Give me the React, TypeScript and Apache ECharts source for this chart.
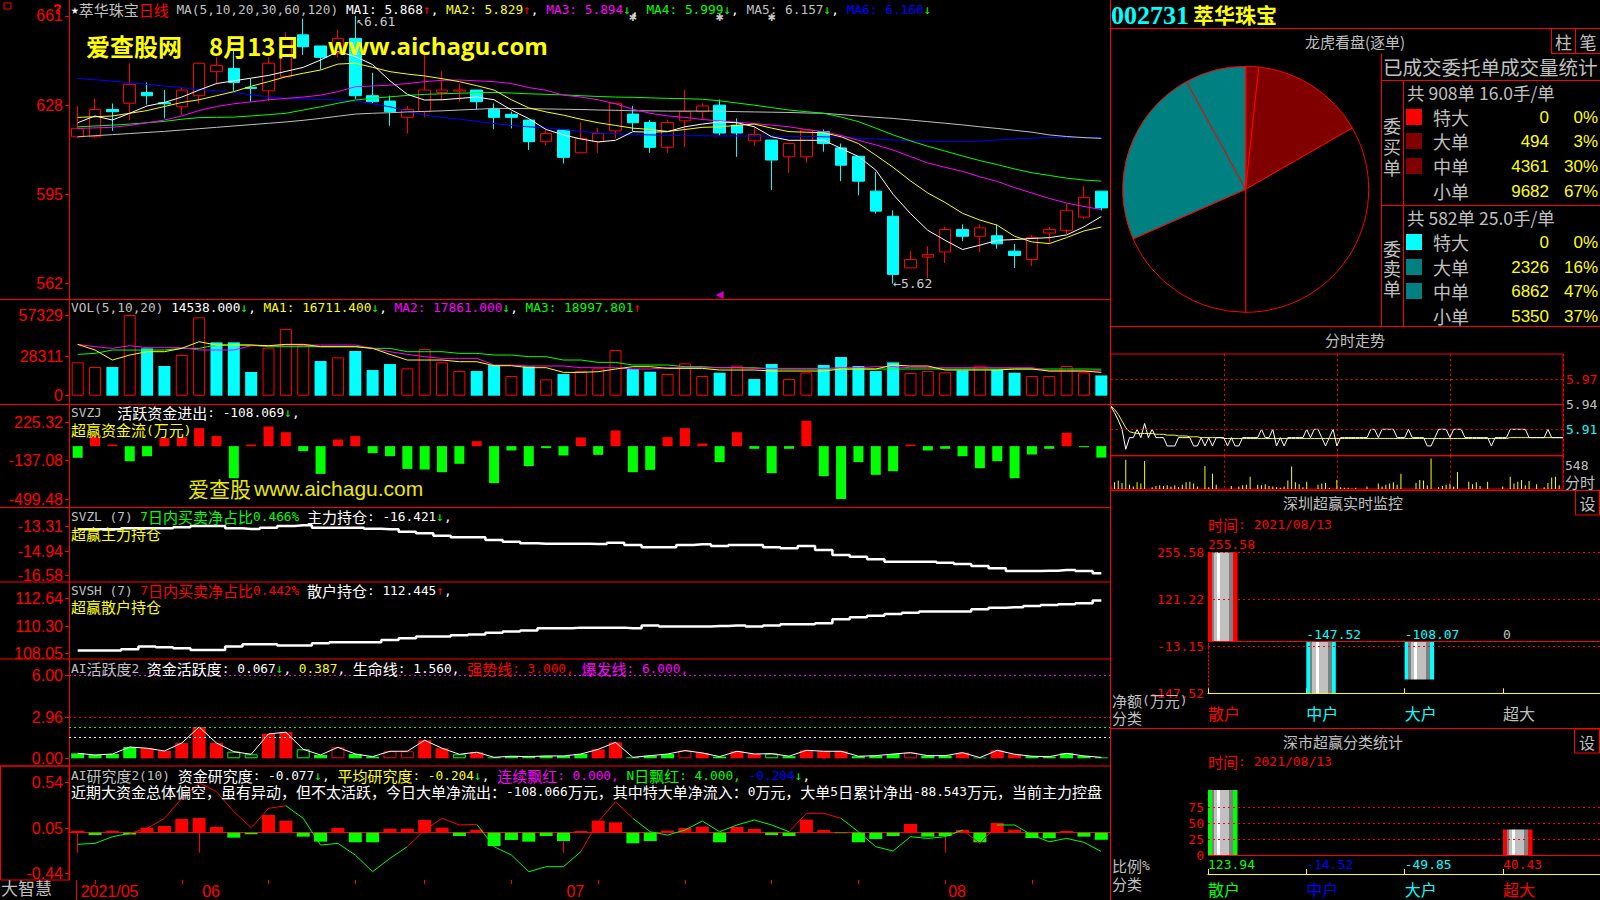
import React, { useEffect, useRef } from 'react';
import * as echarts from 'echarts';

// ================= DATA =================
const dates = ['2021/05/21','2021/05/24','2021/05/25','2021/05/26','2021/05/27','2021/05/28','2021/05/31',
'2021/06/01','2021/06/02','2021/06/03','2021/06/04','2021/06/07','2021/06/08','2021/06/09','2021/06/10','2021/06/11','2021/06/15','2021/06/16','2021/06/17','2021/06/18','2021/06/21','2021/06/22','2021/06/23','2021/06/24','2021/06/25','2021/06/28','2021/06/29','2021/06/30',
'2021/07/01','2021/07/02','2021/07/05','2021/07/06','2021/07/07','2021/07/08','2021/07/09','2021/07/12','2021/07/13','2021/07/14','2021/07/15','2021/07/16','2021/07/19','2021/07/20','2021/07/21','2021/07/22','2021/07/23','2021/07/26','2021/07/27','2021/07/28','2021/07/29','2021/07/30',
'2021/08/02','2021/08/03','2021/08/04','2021/08/05','2021/08/06','2021/08/09','2021/08/10','2021/08/11','2021/08/12','2021/08/13'];

const openP = [6.163,6.163,6.264,6.287,6.327,6.289,6.274,6.315,6.404,6.416, 6.346,6.333,6.385,6.54,6.499,6.472,6.527,6.315,6.295,6.235, 6.256,6.327,6.332,6.336,6.264,6.246,6.225,6.145,6.188,6.104, 6.145,6.185,6.247,6.216,6.124,6.222,6.256,6.28,6.206,6.148, 6.151,6.089,6.089,6.182,6.122,6.091,5.962,5.869,5.678,5.718, 5.737,5.82,5.795,5.797,5.74,5.709,5.807,5.817,5.866,5.962];
const closeP = [6.194,6.264,6.256,6.357,6.315,6.285,6.336,6.435,6.427,6.364, 6.342,6.435,6.527,6.496,6.457,6.527,6.315,6.293,6.256,6.264, 6.336,6.336,6.336,6.293,6.235,6.235,6.145,6.175,6.087,6.157, 6.175,6.287,6.215,6.124,6.216,6.256,6.277,6.177,6.177,6.172, 6.077,6.138,6.188,6.138,6.058,5.999,5.888,5.654,5.709,5.727, 5.82,5.795,5.826,5.767,5.724,5.79,5.82,5.891,5.938,5.90];
const lowP = [6.157,6.159,6.185,6.225,6.283,6.231,6.243,6.287,6.357,6.333, 6.293,6.295,6.385,6.466,6.412,6.457,6.303,6.287,6.204,6.175, 6.235,6.299,6.293,6.264,6.191,6.194,6.114,6.132,6.064,6.104, 6.104,6.157,6.185,6.104,6.104,6.124,6.225,6.168,6.089,6.129, 5.966,6.03,6.067,6.108,5.999,5.947,5.879,5.62,5.678,5.641, 5.696,5.777,5.737,5.749,5.678,5.685,5.767,5.804,5.86,5.89];
const highP = [6.277,6.305,6.286,6.435,6.364,6.336,6.346,6.435,6.457,6.484, 6.377,6.457,6.55,6.60,6.499,6.558,6.61,6.40,6.315,6.277, 6.472,6.406,6.36,6.336,6.286,6.256,6.225,6.188,6.188,6.216, 6.196,6.287,6.277,6.225,6.225,6.336,6.287,6.301,6.231,6.203, 6.151,6.138,6.188,6.19,6.138,6.091,6.033,5.891,5.74,5.758, 5.83,5.839,5.839,5.839,5.767,5.799,5.83,5.915,5.98,5.962];

const ma5 = [6.215,6.24,6.225,6.25,6.277,6.29,6.31,6.336,6.36,6.37, 6.38,6.39,6.405,6.42,6.447,6.478,6.46,6.43,6.37,6.32, 6.299,6.30,6.305,6.31,6.30,6.262,6.23,6.19,6.17,6.155, 6.144,6.15,6.182,6.18,6.182,6.20,6.21,6.218,6.215,6.20, 6.163,6.15,6.15,6.15,6.12,6.09,6.04,5.95,5.879,5.817, 5.78,5.746,5.762,5.78,5.783,5.787,5.79,5.80,5.83,5.868];
const ma10 = [6.235,6.237,6.24,6.25,6.26,6.275,6.29,6.30,6.315,6.33, 6.35,6.367,6.385,6.398,6.41,6.432,6.435,6.42,6.404,6.395, 6.388,6.378,6.367,6.352,6.336,6.30,6.27,6.255,6.243,6.228, 6.215,6.205,6.195,6.19,6.183,6.19,6.198,6.20,6.205,6.21, 6.195,6.182,6.18,6.178,6.163,6.138,6.095,6.05,6.0,5.955, 5.92,5.88,5.855,5.836,5.795,5.774,5.768,5.79,5.815,5.829];
const ma20 = [6.194,6.196,6.198,6.205,6.215,6.225,6.24,6.26,6.275,6.285, 6.292,6.3,6.305,6.31,6.317,6.33,6.348,6.351,6.354,6.36, 6.367,6.372,6.373,6.37,6.367,6.36,6.345,6.335,6.317,6.31, 6.3,6.285,6.265,6.25,6.24,6.235,6.227,6.222,6.217,6.212, 6.206,6.2,6.19,6.182,6.168,6.15,6.133,6.114,6.09,6.066, 6.05,6.035,6.015,5.998,5.975,5.955,5.935,5.918,5.905,5.894];
const ma30 = [6.20,6.203,6.206,6.21,6.215,6.22,6.228,6.234,6.235,6.236, 6.24,6.245,6.25,6.262,6.274,6.287,6.299,6.305,6.311,6.316, 6.32,6.322,6.324,6.326,6.327,6.325,6.322,6.32,6.318,6.315, 6.312,6.31,6.309,6.307,6.305,6.304,6.302,6.296,6.288,6.28, 6.271,6.262,6.256,6.25,6.236,6.219,6.195,6.17,6.148,6.128, 6.11,6.092,6.075,6.06,6.044,6.03,6.02,6.01,6.003,5.999];
const ma60 = [6.163,6.167,6.171,6.175,6.179,6.183,6.188,6.193,6.198,6.203, 6.208,6.213,6.218,6.224,6.231,6.239,6.247,6.25,6.252,6.255, 6.257,6.259,6.262,6.265,6.268,6.268,6.267,6.266,6.265,6.264, 6.262,6.261,6.259,6.259,6.258,6.258,6.258,6.258,6.256,6.255, 6.254,6.253,6.251,6.25,6.245,6.24,6.235,6.231,6.225,6.219, 6.213,6.207,6.2,6.194,6.187,6.18,6.17,6.164,6.16,6.157];
const ma120 = [6.379,6.374,6.369,6.363,6.357,6.351,6.345,6.338,6.333,6.327, 6.318,6.311,6.305,6.303,6.301,6.299,6.296,6.285,6.274,6.258, 6.243,6.235,6.228,6.22,6.212,6.205,6.2,6.196,6.19,6.183, 6.177,6.174,6.172,6.17,6.168,6.167,6.167,6.166,6.166,6.166, 6.165,6.165,6.164,6.163,6.161,6.158,6.155,6.151,6.149,6.147, 6.146,6.145,6.147,6.151,6.155,6.158,6.16,6.16,6.16,6.16];

const vol = [23890,20545,20545,57814,33924,21262,29146,56142,38224,38224, 16962,34402,47780,36313,24846,27474,32013,18395,22696,19590, 33446,23890,17679,17679,21979,14095,21023,11706,15529,17679, 19590,32729,19112,17201,15529,23173,14095,16484,21501,11945, 22696,11945,16723,21979,27712,21262,17679,23890,16245,17679, 16723,18156,21501,18634,16484,14095,14095,21262,16723,14538];
const volUp = [1,1,0,1,0,0,1,1,0,0, 0,1,1,1,0,1,0,0,0,1, 1,1,1,0,0,1,0,1,0,1, 1,1,0,0,1,1,1,0,1,0, 0,1,1,0,0,0,0,0,1,1, 1,0,1,0,0,1,1,1,1,0];
const volMa5 = [36791,32729,25562,29146,31535,31535,33924,38702,36313,36313, 36313,35835,36791,36791,35118,35118,35118,33924,29624,25562, 25562,25562,24368,24368,21501,21501,20068,20068,16723,16723, 17201,19112,20784,20784,19590,19590,19590,18395,18395,18395, 17679,17679,17679,17679,19112,19112,19112,21979,21262,21262, 18395,18395,18395,18395,19112,19112,17679,17679,17679,16711];
const volMa10 = [36791,35118,33924,35835,34402,34402,34402,32729,32729,32729, 35835,35835,36313,36313,36313,36313,36313,33924,31535,29624, 27951,26757,26757,26757,21979,21979,21262,21262,21262,20068, 20068,20068,19112,19112,20068,20068,20068,20068,20068,19590, 19590,19590,19590,19590,20068,20068,20784,20784,20068,20068, 20068,20068,20068,20068,20068,20068,17679,17679,17679,17861];
const volMa20 = [29624,30341,32729,32729,32729,32729,33924,33924,36313,36313, 36313,35118,35118,35118,35118,35118,35118,33924,33924,31535, 31535,31535,30341,30341,29146,29146,27951,27951,25562,25562, 23890,23890,21979,21979,21979,20784,20784,20068,20068,20068, 19112,19112,19112,19112,19112,19112,19112,19112,19112,19112, 19112,19112,19112,19112,19112,19112,19112,19112,19112,18998];

const svzj = [-110,85,15,-142,-95,76,85,170,95,-303, 15,186,132,-47,-262,63,95,-66,-95,-215, -221,-246,-167,47,-350,-41,-189,-19,-88,82, -82,148,-246,-224,85,170,25,-151,132,-25, -255,-25,240,-284,-500,-151,-271,-237,15,-41, -25,-95,-208,-142,-303,-79,-25,126,-10,-108.069];
const svzl = [-13.488,-13.488,-13.488,-13.421,-13.421,-13.421,-13.354,-13.265,-13.265,-13.421, -13.466,-13.377,-13.265,-13.221,-13.377,-13.377,-13.377,-13.443,-13.488,-13.644, -13.755,-13.911,-14.022,-14.022,-14.2,-14.311,-14.422,-14.445,-14.445,-14.445, -14.467,-14.378,-14.534,-14.689,-14.689,-14.534,-14.489,-14.6,-14.534,-14.534, -14.689,-14.756,-14.6,-14.867,-15.2,-15.312,-15.49,-15.646,-15.646,-15.646, -15.713,-15.8,-15.935,-16.09,-16.269,-16.269,-16.247,-16.202,-16.269,-16.421];
const svsh = [108.27,108.27,108.27,108.38,108.61,108.55,108.47,108.33,108.33,108.61, 108.80,108.80,108.69,108.69,108.88,108.97,108.97,108.97,109.16,109.30, 109.44,109.44,109.55,109.61,109.77,109.86,109.94,110.14,110.14,110.19, 110.19,110.19,110.14,110.36,110.28,110.28,110.28,110.33,110.36,110.28, 110.36,110.47,110.47,110.55,110.89,111.05,111.19,111.33,111.44,111.53, 111.53,111.53,111.72,111.86,111.89,112.00,112.08,112.14,112.22,112.445];
const ai1 = [0.36,0.24,0.31,0.82,0.73,0.53,1.11,2.27,1.11,0.48, 0.29,1.77,1.89,0.65,0.24,0.80,0.31,0.12,0.51,0.51, 1.31,0.73,0.29,0.44,0.07,0.15,0.12,0.17,0.17,0.31, 0.65,1.16,0.07,0.19,0.31,0.56,0.39,0.12,0.51,0.31, 0.34,0.15,0.58,0.51,0.51,0.15,0.19,0.31,0.41,0.19, 0.19,0.41,0.05,0.58,0.29,0.15,0.12,0.36,0.17,0.067];
// R filled red, r hollow red, G filled green, g hollow green
const ai1Style = 'GGGGRRRRRggRRgGrGGrrRRgRGGGGGGRRGGGrRGRRgGRRRGGGrGGRGRRGGGGG'.split('');
const ai1Levels = [6.0, 3.0, 2.27, 1.56];
const ai1LevelColors = ['#ff00ff', '#ff0000', '#00ff00', '#ffffff'];
const ai2Bar = [0.02,-0.025,0.02,-0.02,0.054,0.072,0.148,0.159,0.061,-0.054, -0.018,0.191,0.13,-0.043,-0.097,0.05,-0.104,-0.104,0.043,0.043, 0.137,0.054,-0.036,0.032,-0.144,-0.079,-0.097,-0.036,-0.09,0.018, 0.13,0.112,-0.115,-0.09,0.022,0.05,0.065,-0.104,0.061,0.04, -0.025,-0.036,0.141,0.029,-0.006,-0.104,-0.068,-0.036,0.094,-0.043, -0.036,0.029,-0.104,0.105,0.032,-0.058,-0.061,0.018,-0.043,-0.077];
const ai2Line = [-0.126,-0.116,-0.044,-0.008,0.046,0.155,0.371,0.54,0.443,0.227, 0.054,0.263,0.291,0.155,-0.134,-0.116,-0.242,-0.422,-0.278,-0.152, 0.028,0.155,0.083,0.09,-0.152,-0.242,-0.422,-0.368,-0.368,-0.206, 0.119,0.335,0.155,0.01,-0.026,0.028,0.126,0.01,0.083,0.137, 0.083,0.01,0.209,0.209,0.155,0.01,-0.152,-0.198,-0.044,-0.062, -0.044,0.028,-0.116,0.083,0.083,-0.026,-0.098,-0.062,-0.105,-0.204];
const ai2LineColor = 'GGGGRRRRRRRRRGGGGGGGRRRRGGGGGGRRRGGGGGGGGGRRRGGGGGGGRRGGGGGG'.split('');

const eventIdx = [32, 37, 40];
const highMark = { idx: 16, price: 6.61 };
const lowMark = { idx: 47, price: 5.62 };
const cursorIdx = 37;

const kTicks = [6.61, 6.28, 5.95, 5.62];
const volTicks = [57329, 28311, 0];
const svzjTicks = [225.32, -137.08, -499.48];
const svzlTicks = [-13.31, -14.94, -16.58];
const svshTicks = [112.64, 110.30, 108.05];
const ai1Ticks = [6.00, 2.96, 0.00];
const ai2Ticks = [0.54, 0.05, -0.44];

// pie (龙虎看盘)
const pieNames = ['委买特大','委买大单','委买中单','委买小单','委卖小单','委卖中单','委卖大单','委卖特大'];
const pieValues = [0, 494, 4361, 9682, 5350, 6862, 2326, 0];
const pieColors = ['#ff0000','#800000','#800000','#000000','#000000','#008080','#008080','#00ffff'];
const orderLabels = ['特大','大单','中单','小单'];
const buyVals = ['0','494','4361','9682'];
const buyPct = ['0%','3%','30%','67%'];
const buyColors = ['#ff0000','#800000','#800000',''];
const sellVals = ['0','2326','6862','5350'];
const sellPct = ['0%','16%','47%','37%'];
const sellColors = ['#00ffff','#008080','#008080',''];

// 分时
const minPrice = [5.938,5.93,5.921,5.91,5.886,5.90,5.90,5.91,5.90,5.917, 5.90,5.91,5.90,5.90,5.90,5.89,5.89,5.89,5.90,5.90, 5.90,5.90,5.89,5.89,5.90,5.89,5.90,5.89,5.90,5.90, 5.90,5.89,5.90,5.89,5.89,5.90,5.90,5.90,5.90,5.90, 5.91,5.90,5.90,5.91,5.89,5.90,5.89,5.90,5.90,5.90, 5.90,5.90,5.91,5.90,5.91,5.91,5.90,5.89,5.90,5.91, 5.89,5.90,5.90,5.90,5.90,5.90,5.90,5.90,5.90,5.91, 5.91,5.90,5.91,5.91,5.91,5.91,5.90,5.90,5.90,5.91, 5.90,5.90,5.90,5.90,5.89,5.89,5.90,5.91,5.91,5.91, 5.90,5.91,5.91,5.91,5.90,5.90,5.90,5.90,5.90,5.90, 5.90,5.89,5.90,5.90,5.90,5.90,5.91,5.91,5.91,5.91, 5.91,5.90,5.90,5.90,5.90,5.90,5.91,5.90,5.90,5.90, 5.90];
const minAvg = [5.938,5.934,5.928,5.92,5.912,5.907,5.906,5.905,5.905,5.905, 5.905,5.905,5.904,5.904,5.904,5.903,5.903,5.903,5.902,5.902, 5.902,5.901,5.901,5.901,5.90,5.90,5.90,5.90,5.90,5.90, 5.899,5.899,5.899,5.899,5.899,5.899,5.899,5.899,5.899,5.899, 5.899,5.899,5.899,5.899,5.899,5.899,5.899,5.899,5.899,5.899, 5.899,5.899,5.899,5.899,5.899,5.899,5.899,5.899,5.899,5.899, 5.899,5.899,5.899,5.899,5.899,5.899,5.899,5.899,5.899,5.899, 5.899,5.899,5.899,5.899,5.899,5.899,5.899,5.899,5.899,5.899, 5.899,5.899,5.899,5.899,5.899,5.899,5.899,5.899,5.899,5.899, 5.899,5.899,5.899,5.899,5.899,5.899,5.899,5.899,5.899,5.899, 5.899,5.899,5.899,5.899,5.899,5.899,5.90,5.90,5.90,5.90, 5.90,5.90,5.90,5.90,5.90,5.90,5.90,5.90,5.90,5.90, 5.90];
const minVol = [60,110,140,100,480,70,40,110,90,460, 0,30,50,60,50,60,40,60,30,70, 110,120,90,40,0,380,30,250,70,0, 0,0,50,0,40,60,70,200,0,70, 60,80,50,40,30,20,40,140,370,110, 80,30,120,0,0,70,90,100,20,0, 150,30,20,20,10,20,0,0,40,0, 0,90,40,70,90,110,70,250,0,0, 0,100,150,140,60,500,0,30,50,70, 90,40,280,0,0,120,80,110,50,0, 120,0,0,0,40,0,200,90,120,150, 60,130,0,80,0,30,100,190,200,60, 0];
const minPriceTicks = [5.97, 5.94, 5.91];
const minPrevClose = 5.94;

// 深圳超赢实时监控
const szCats = ['散户','中户','大户','超大'];
const szNet = [255.58, -147.52, -108.07, 0];
const szTicks = [255.58, 121.22, -13.15, -147.52];
const szEdge = ['#ff0000','#00ffff','#00ffff','#c0c0c0'];
const szCatColors = ['#ff0000','#00ffff','#00ffff','#c0c0c0'];
// 深市超赢分类统计
const ssPct = [123.94, -14.52, -49.85, 40.43];
const ssTicks = [75, 50, 25, 0];
const ssColors = ['#00ff00','#0000ff','#00ffff','#ff0000'];

// ================= STYLE HELPERS =================
const MONO = '"DejaVu Sans Mono", monospace';
const CJK = '"Noto Sans CJK SC", sans-serif';
const SANS = '"Liberation Sans", Arial, sans-serif';
const SERIF = '"Liberation Serif", serif';
const RED = '#ff0000', GREEN = '#00ff00', CYAN = '#00ffff', YEL = '#ffff00', MAG = '#ff00ff', WHITE = '#ffffff', GRAY = '#c0c0c0', BLUE = '#0000ff';

const isCJK = (ch: string) => /[\u2E80-\u9FFF\uF900-\uFAFF\uFF00-\uFFEF\u3000-\u303F]/.test(ch);

function mixText(segs: [string, string][], asciiSize: number, cjkSize: number, asciiFont = MONO) {
  const rich: any = {};
  let text = '';
  for (const [s, color] of segs) {
    let run = '';
    let runK: boolean | null = null;
    const flush = () => {
      if (!run) return;
      const key = (runK ? 'k' : 'a') + color.replace('#', '');
      if (!rich[key]) rich[key] = { fill: color, fontSize: runK ? cjkSize : asciiSize, fontFamily: runK ? CJK : asciiFont, verticalAlign: 'middle', lineHeight: cjkSize + 2 };
      text += '{' + key + '|' + run + '}';
      run = '';
    };
    for (const ch of Array.from(s)) {
      const k = isCJK(ch);
      if (runK !== null && k !== runK) flush();
      runK = k;
      run += ch;
    }
    flush();
  }
  return { text, rich };
}

const MT = (x: number, y: number, segs: [string, string][], a = 12.8, k = 15, align = 'left') => {
  const { text, rich } = mixText(segs, a, k);
  return { type: 'text', x, y, z: 100, silent: true, style: { text, rich, align, verticalAlign: 'middle', fill: WHITE, fontSize: k } };
};
const T = (x: number, y: number, text: string, fill: string, size: number, family = CJK, align = 'left', weight = 'normal') => ({
  type: 'text', x, y, z: 100, silent: true, style: { text, fill, fontSize: size, fontFamily: family, fontWeight: weight, align, verticalAlign: 'middle', lineHeight: Math.round(size * 1.15) },
});
const LN = (x1: number, y1: number, x2: number, y2: number, color = RED, dash: any = null) => ({
  type: 'line', z: 50, silent: true, shape: { x1, y1, x2, y2 }, style: { stroke: color, lineWidth: 1, lineDash: dash },
});
const RC = (x: number, y: number, w: number, h: number, stroke: any = RED, fill: any = 'none') => ({
  type: 'rect', z: 50, silent: true, shape: { x, y, width: w, height: h }, style: { stroke, fill, lineWidth: 1 },
});

const barGrad = (edge: string) => new echarts.graphic.LinearGradient(0, 0, 1, 0, [
  { offset: 0, color: edge }, { offset: 0.12, color: edge },
  { offset: 0.12, color: '#808080' }, { offset: 0.2, color: '#808080' },
  { offset: 0.2, color: GRAY }, { offset: 0.32, color: GRAY },
  { offset: 0.32, color: WHITE }, { offset: 0.42, color: WHITE },
  { offset: 0.42, color: GRAY }, { offset: 0.72, color: GRAY },
  { offset: 0.72, color: '#808080' }, { offset: 0.86, color: '#808080' },
  { offset: 0.86, color: edge }, { offset: 1, color: edge },
]);

function buildOption() {
  const L = 69, W = 1041;
  const paneTops = [0, 299, 404, 507, 582, 659, 766];
  const paneHeights = [299, 105, 103, 75, 77, 107, 114];
  const paneRanges = [[5.563, 6.669], [-5948, 69296], [-575, 398.3], [-17.0, -12.0], [107.57, 114.0], [-0.56, 7.21], [-0.512, 0.721]];
  const paneTicks = [kTicks, volTicks, svzjTicks, svzlTicks, svshTicks, ai1Ticks, ai2Ticks];
  const paneFmt = [
    (v: number) => String(Math.round(v * 100)),
    (v: number) => String(Math.round(v)),
    (v: number) => v.toFixed(2), (v: number) => v.toFixed(2), (v: number) => v.toFixed(2),
    (v: number) => v.toFixed(2), (v: number) => v.toFixed(2),
  ];

  const grid: any[] = paneTops.map((t, i) => ({ left: L, top: t, width: W, height: paneHeights[i], outerBoundsMode: 'none' }));
  grid.push({ left: 1110.7, top: 354, width: 452.3, height: 101.7, show: true, borderColor: RED, borderWidth: 1, backgroundColor: 'transparent', outerBoundsMode: 'none' });
  grid.push({ left: 1110.7, top: 455.7, width: 452.3, height: 33.3, show: true, borderColor: RED, borderWidth: 1, backgroundColor: 'transparent', outerBoundsMode: 'none' });
  grid.push({ left: 1208, top: 552.3, width: 393.3, height: 141, outerBoundsMode: 'none' });
  grid.push({ left: 1208, top: 790, width: 393.3, height: 65, outerBoundsMode: 'none' });

  const monthStart = (i: number) => i === 0 || dates[i].slice(5, 7) !== dates[i - 1].slice(5, 7);
  const weekStart = (i: number) => i > 0 && new Date(dates[i]).getDay() <= new Date(dates[i - 1]).getDay();

  const xAxis: any[] = paneTops.map((_, i) => {
    if (i < 6) return { type: 'category', gridIndex: i, data: dates, boundaryGap: true, show: false };
    return {
      type: 'category', gridIndex: i, data: dates, boundaryGap: true,
      axisLine: { show: true, lineStyle: { color: RED, width: 1 } },
      axisTick: { show: true, alignWithLabel: true, interval: monthStart, length: 20, lineStyle: { color: RED } },
      axisLabel: { show: true, interval: monthStart, formatter: (v: string, idx: number) => (idx === 0 ? v.slice(0, 7) : v.slice(5, 7)), color: RED, fontFamily: SANS, fontSize: 16, align: 'left', margin: 3, padding: [0, 0, 0, 3] },
      splitLine: { show: false },
    };
  });
  const minCats = minPrice.map((_, i) => String(i));
  const minX = (gi: number) => ({
    type: 'category', gridIndex: gi, data: minCats, boundaryGap: false,
    axisLine: { show: false }, axisTick: { show: false }, axisLabel: { show: false },
    splitLine: { show: true, interval: 29, lineStyle: { color: RED, type: [2, 3], width: 1 } },
  });
  xAxis.push(minX(7), minX(8));
  const catX = (gi: number, offset: number, margin: number, colors: string[]) => ({
    type: 'value', gridIndex: gi, min: 0, max: 4, position: 'bottom', offset,
    axisLine: { show: true, onZero: false, lineStyle: { color: YEL, width: 1 } },
    axisTick: { show: true, inside: true, length: 5, customValues: [0, 1, 2, 3], lineStyle: { color: YEL } },
    axisLabel: { show: true, customValues: [0, 1, 2, 3], formatter: (v: number) => szCats[Math.round(v)] || '', color: (v: any) => colors[Math.round(Number(v))] || GRAY, align: 'left', fontFamily: CJK, fontSize: 16, margin },
    splitLine: { show: false },
  });
  xAxis.push(catX(9, 0, 12, szCatColors), catX(10, 19, 7, ssColors));
  xAxis.push({
    type: 'category', gridIndex: 6, data: dates, boundaryGap: true, position: 'bottom',
    axisLine: { show: false }, axisLabel: { show: false }, splitLine: { show: false },
    axisTick: { show: true, alignWithLabel: true, interval: weekStart, length: 4, lineStyle: { color: RED } },
  });

  const yAxis: any[] = paneTops.map((_, i) => ({
    type: 'value', gridIndex: i, min: paneRanges[i][0], max: paneRanges[i][1],
    axisLine: { show: true, onZero: false, lineStyle: { color: RED, width: 1 } },
    axisTick: { show: true, customValues: paneTicks[i], length: 4, lineStyle: { color: RED } },
    axisLabel: { show: true, customValues: paneTicks[i], formatter: paneFmt[i], color: RED, fontFamily: SANS, fontSize: 16, margin: 6 },
    splitLine: { show: false },
  }));
  yAxis.push({
    type: 'value', gridIndex: 7, position: 'right', min: 5.8783, max: 6.0004,
    axisLine: { show: false }, axisTick: { show: false }, splitLine: { show: false },
    axisLabel: { show: true, customValues: minPriceTicks, formatter: (v: number) => v.toFixed(2), color: (v: any) => (Number(v) > minPrevClose + 0.005 ? RED : Number(v) < minPrevClose - 0.005 ? CYAN : GRAY), fontFamily: MONO, fontSize: 13, margin: 3 },
  });
  yAxis.push({ type: 'value', gridIndex: 8, min: 0, max: 548, show: false });
  yAxis.push({
    type: 'value', gridIndex: 9, min: -147.52, max: 255.58,
    axisLine: { show: true, onZero: false, lineStyle: { color: RED, type: [2, 2] } }, axisTick: { show: false }, splitLine: { show: false },
    axisLabel: { show: true, customValues: szTicks, formatter: (v: number) => v.toFixed(2), color: RED, fontFamily: MONO, fontSize: 13, margin: 4 },
  });
  yAxis.push({
    type: 'value', gridIndex: 10, min: 0, max: 103,
    axisLine: { show: true, onZero: false, lineStyle: { color: RED, type: [2, 2] } }, axisTick: { show: false }, splitLine: { show: false },
    axisLabel: { show: true, customValues: ssTicks, formatter: (v: number) => String(Math.round(v)), color: RED, fontFamily: MONO, fontSize: 13, margin: 4 },
  });

  const series: any[] = [];
  series.push({
    type: 'candlestick', xAxisIndex: 0, yAxisIndex: 0, barWidth: 12, silent: true,
    data: dates.map((_, i) => [openP[i], closeP[i], lowP[i], highP[i]]),
    itemStyle: { color: 'rgba(0,0,0,0)', color0: CYAN, borderColor: RED, borderColor0: CYAN, borderWidth: 1 },
  });
  const maLine = (data: number[], color: string, xi: number, yi: number, width = 1) => ({
    type: 'line', xAxisIndex: xi, yAxisIndex: yi, data, symbol: 'none', silent: true, lineStyle: { color, width }, z: 3,
  });
  series.push(maLine(ma120, BLUE, 0, 0), maLine(ma60, GRAY, 0, 0), maLine(ma30, GREEN, 0, 0), maLine(ma20, MAG, 0, 0), maLine(ma10, YEL, 0, 0), maLine(ma5, WHITE, 0, 0));
  series.push({
    type: 'scatter', xAxisIndex: 0, yAxisIndex: 0, symbolSize: 0, silent: true, z: 5,
    data: [[highMark.idx, highMark.price]],
    label: { show: true, position: 'right', distance: 1, offset: [0, 6], formatter: '↖' + highMark.price.toFixed(2), color: WHITE, fontFamily: MONO, fontSize: 13 },
  });
  series.push({
    type: 'scatter', xAxisIndex: 0, yAxisIndex: 0, symbolSize: 0, silent: true, z: 5,
    data: [[lowMark.idx, lowMark.price]],
    label: { show: true, position: 'right', distance: 0, formatter: '←' + lowMark.price.toFixed(2), color: WHITE, fontFamily: MONO, fontSize: 13 },
  });
  series.push({
    type: 'scatter', xAxisIndex: 0, yAxisIndex: 0, symbolSize: 0, silent: true, z: 5,
    data: eventIdx.map((i) => [i, 6.603]),
    label: { show: true, position: 'inside', formatter: '✱', color: WHITE, fontFamily: '"DejaVu Sans"', fontSize: 10, fontWeight: 'bold' },
  });
  series.push({
    type: 'scatter', xAxisIndex: 0, yAxisIndex: 0, symbol: 'triangle', symbolRotate: 90, symbolSize: 8, silent: true, z: 5,
    data: [[cursorIdx, 5.578]], itemStyle: { color: MAG },
  });
  series.push({
    type: 'bar', xAxisIndex: 1, yAxisIndex: 1, barWidth: 12, silent: true,
    data: vol.map((v, i) => ({ value: v, itemStyle: volUp[i] ? { color: 'rgba(0,0,0,0)', borderColor: RED, borderWidth: 1 } : { color: CYAN, borderColor: CYAN, borderWidth: 0 } })),
  });
  series.push(maLine(volMa20, GREEN, 1, 1), maLine(volMa10, MAG, 1, 1), maLine(volMa5, YEL, 1, 1));
  series.push({
    type: 'bar', xAxisIndex: 2, yAxisIndex: 2, barWidth: 10, silent: true,
    data: svzj.map((v) => ({ value: v, itemStyle: { color: v >= 0 ? RED : GREEN } })),
  });
  series.push({ type: 'line', xAxisIndex: 3, yAxisIndex: 3, data: svzl, step: 'middle', symbol: 'none', silent: true, lineStyle: { color: WHITE, width: 2.5 } });
  series.push({ type: 'line', xAxisIndex: 4, yAxisIndex: 4, data: svsh, step: 'middle', symbol: 'none', silent: true, lineStyle: { color: WHITE, width: 2.5 } });
  const aiStyle = (s: string) => s === 'R' ? { color: RED } : s === 'G' ? { color: GREEN } : s === 'r' ? { color: 'rgba(0,0,0,0)', borderColor: RED, borderWidth: 1 } : { color: 'rgba(0,0,0,0)', borderColor: GREEN, borderWidth: 1 };
  series.push({
    type: 'bar', xAxisIndex: 5, yAxisIndex: 5, barWidth: 13, silent: true,
    data: ai1.map((v, i) => ({ value: v, itemStyle: aiStyle(ai1Style[i]) })),
    markLine: { silent: true, symbol: ['none', 'none'], label: { show: false }, animation: false,
      data: ai1Levels.map((v, i) => ({ yAxis: v, lineStyle: { color: ai1LevelColors[i], type: [2, 3], width: 1 } })) },
  });
  series.push({ type: 'line', xAxisIndex: 5, yAxisIndex: 5, data: ai1, symbol: 'none', silent: true, lineStyle: { color: WHITE, width: 1 }, z: 3 });
  series.push({
    type: 'bar', xAxisIndex: 6, yAxisIndex: 6, barWidth: 13, silent: true,
    data: ai2Bar.map((v) => ({ value: v, itemStyle: { color: v >= 0 ? RED : GREEN } })),
  });
  const ai2LineIdx = series.length;
  series.push({ type: 'line', xAxisIndex: 6, yAxisIndex: 6, data: ai2Line.map((v, i) => [i, v]), symbol: 'none', silent: true, lineStyle: { width: 1 }, z: 3 });
  const pieces: any[] = [];
  let segStart = 0;
  for (let i = 1; i < ai2Line.length; i++) {
    const c = ai2LineColor[i];
    if (i === ai2Line.length - 1 || ai2LineColor[i + 1] !== c) {
      pieces.push({ gt: segStart, lte: i, color: c === 'R' ? RED : GREEN });
      segStart = i;
    }
  }
  pieces.push({ lte: 0, color: ai2LineColor[0] === 'R' ? RED : GREEN });

  series.push({
    type: 'pie', center: [1245.7, 189.3], radius: 123, startAngle: 90, clockwise: true, silent: true,
    minAngle: 0, avoidLabelOverlap: false, stillShowZeroSum: true, emphasis: { disabled: true },
    label: { show: false }, labelLine: { show: false },
    itemStyle: { borderColor: RED, borderWidth: 1 },
    data: pieValues.map((v, i) => ({ value: v, name: pieNames[i], itemStyle: { color: pieColors[i] } })),
  });

  series.push({
    type: 'line', xAxisIndex: 7, yAxisIndex: 7, data: minPrice, symbol: 'none', silent: true, lineStyle: { color: WHITE, width: 1 }, z: 4,
    markLine: { silent: true, symbol: ['none', 'none'], label: { show: false },
      data: minPriceTicks.map((v) => ({ yAxis: v, lineStyle: { color: RED, width: 1, type: v === minPrevClose ? 'solid' : [2, 3] } })) },
  });
  series.push({ type: 'line', xAxisIndex: 7, yAxisIndex: 7, data: minAvg, symbol: 'none', silent: true, lineStyle: { color: YEL, width: 1 }, z: 3 });
  series.push({ type: 'bar', xAxisIndex: 8, yAxisIndex: 8, data: minVol, barWidth: 1, silent: true, itemStyle: { color: YEL } });

  const barRender = (labels: string[], labelColors: string[], edges: string[], lo: number, hi: number, below: boolean) => (params: any, api: any) => {
    const i = api.value(0);
    const v = api.value(1);
    const vc = Math.max(lo, Math.min(hi, v));
    const p0 = api.coord([i, 0]);
    const p1 = api.coord([i, vc]);
    const w = api.size([0.3, 0])[0];
    const children: any[] = [];
    const h = Math.abs(p1[1] - p0[1]);
    if (h > 0.5) children.push({ type: 'rect', shape: { x: p0[0], y: Math.min(p0[1], p1[1]), width: w, height: h }, style: { fill: barGrad(edges[i]) } });
    const ly = below ? p0[1] + 3 : (v > 0 ? p1[1] - 1 : p0[1] - 1);
    children.push({ type: 'text', x: p0[0], y: ly, style: { text: labels[i], fill: labelColors[i], fontSize: 13, fontFamily: MONO, align: 'left', verticalAlign: below ? 'top' : 'bottom' } });
    return { type: 'group', children };
  };
  series.push({
    type: 'custom', xAxisIndex: 9, yAxisIndex: 9, silent: true, z: 4,
    data: szNet.map((v, i) => [i, v]),
    renderItem: barRender(szNet.map((v) => (v === 0 ? '0' : v.toFixed(2))), szCatColors, szEdge, -147.52, 255.58, false),
    markLine: { silent: true, symbol: ['none', 'none'], label: { show: false },
      data: [...szTicks.slice(0, 3).map((v) => ({ yAxis: v, lineStyle: { color: RED, type: [2, 3], width: 1 } })), { yAxis: 0, lineStyle: { color: RED, type: 'solid', width: 1 } }] },
  });
  series.push({
    type: 'custom', xAxisIndex: 10, yAxisIndex: 10, silent: true, z: 4,
    data: ssPct.map((v, i) => [i, v]),
    renderItem: barRender(ssPct.map((v) => v.toFixed(2)), ssColors, ssColors, 0, 103, true),
    markLine: { silent: true, symbol: ['none', 'none'], label: { show: false },
      data: [...ssTicks.slice(0, 3).map((v) => ({ yAxis: v, lineStyle: { color: RED, type: [2, 3], width: 1 } })), { yAxis: 0, lineStyle: { color: RED, type: 'solid', width: 1 } }] },
  });

  // ================= GRAPHIC =================
  const g: any[] = [];
  [299.5, 404.5, 507.5, 582, 659, 766].forEach((y) => g.push(LN(0, y, 1110, y)));
  g.push(LN(1110.5, 0, 1110.5, 900));
  g.push(RC(0.5, 766, 68.5, 114));
  g.push(LN(76.5, 880, 76.5, 900));
  g.push(RC(4, 3, 7, 6, RED));
  g.push(T(53, 9, '?', RED, 14, SANS, 'left', 'bold'));
  g.push(T(1, 887, '大智慧', GRAY, 17, CJK));

  g.push(MT(71, 9.5, [['★', WHITE], ['萃华珠宝', GRAY], ['日线', RED], [' MA(5,10,20,30,60,120) ', GRAY], ['MA1: 5.868', WHITE], ['↑', RED], [', ', WHITE], ['MA2: 5.829', YEL], ['↑', RED], [', ', WHITE], ['MA3: 5.894', MAG], ['↓', GREEN], [', ', WHITE], ['MA4: 5.999', GREEN], ['↓', GREEN], [', ', WHITE], ['MA5: 6.157', GRAY], ['↓', GREEN], [', ', WHITE], ['MA6: 6.160', BLUE], ['↓', GREEN]]));
  g.push(T(86, 45, '爱查股网', YEL, 24, CJK, 'left', 'bold'));
  g.push(T(209, 45, '8月13日', YEL, 24, CJK, 'left', 'bold'));
  g.push(T(328, 45, 'www.aichagu.com', YEL, 24, '"Open Sans", sans-serif', 'left', 'bold'));
  g.push(MT(71, 307, [['VOL(5,10,20) ', GRAY], ['14538.000', WHITE], ['↓', GREEN], [', ', WHITE], ['MA1: 16711.400', YEL], ['↓', GREEN], [', ', WHITE], ['MA2: 17861.000', MAG], ['↓', GREEN], [', ', WHITE], ['MA3: 18997.801', GREEN], ['↑', RED]]));
  g.push(MT(71, 412, [['SVZJ  ', GRAY], ['活跃资金进出: -108.069', WHITE], ['↓', GREEN], [',', WHITE]]));
  g.push(MT(71, 429, [['超赢资金流(万元)', YEL]]));
  g.push(T(188, 488, '爱查股', '#e8e800', 21, CJK));
  g.push(T(254, 488, 'www.aichagu.com', '#e8e800', 21, SANS));
  g.push(MT(71, 516.7, [['SVZL (7) ', GRAY], ['7日内买卖净占比0.466%', GREEN], [' 主力持仓: -16.421', WHITE], ['↓', GREEN], [',', WHITE]]));
  g.push(MT(71, 533, [['超赢主力持仓', YEL]]));
  g.push(MT(71, 590.7, [['SVSH (7) ', GRAY], ['7日内买卖净占比0.442%', RED], [' 散户持仓: 112.445', WHITE], ['↑', RED], [',', WHITE]]));
  g.push(MT(71, 606.7, [['超赢散户持仓', YEL]]));
  g.push(MT(71, 668.3, [['AI活跃度2 ', GRAY], ['资金活跃度: 0.067', WHITE], ['↓', GREEN], [', ', WHITE], ['0.387', YEL], [', 生命线: 1.560, ', WHITE], ['强势线: 3.000, ', RED], ['爆发线: 6.000,', MAG]]));
  g.push(MT(71, 775, [['AI研究度2(10) ', GRAY], ['资金研究度: -0.077', WHITE], ['↓', GREEN], [', ', WHITE], ['平均研究度: -0.204', YEL], ['↓', GREEN], [', ', WHITE], ['连续飘红: 0.000, ', MAG], ['N日飘红: 4.000, ', GREEN], ['-0.204', BLUE], ['↓', GREEN], [',', WHITE]]));
  g.push(MT(71, 791.7, [['近期大资金总体偏空，虽有异动，但不太活跃，今日大单净流出：-108.066万元，其中特大单净流入：0万元，大单5日累计净出-88.543万元，当前主力控盘', WHITE]]));

  g.push(LN(1110, 28.5, 1600, 28.5));
  g.push(LN(1551, 53.5, 1600, 53.5));
  g.push(LN(1551.5, 28.5, 1551.5, 53.5));
  g.push(LN(1575.5, 28.5, 1575.5, 53.5));
  g.push(LN(1381.5, 53.5, 1381.5, 326));
  g.push(LN(1381, 80.5, 1600, 80.5));
  g.push(LN(1403.5, 80.5, 1403.5, 326));
  g.push(LN(1381, 205.5, 1600, 205.5));
  g.push(LN(1110, 326.5, 1600, 326.5));
  g.push(LN(1110, 490.5, 1600, 490.5));
  g.push(RC(1575.5, 490.5, 24, 24.5));
  g.push(LN(1110, 728.5, 1600, 728.5));
  g.push(RC(1574.5, 729, 25, 24));

  g.push(T(1111, 15, '002731', CYAN, 26, SERIF, 'left', 'bold'));
  g.push(T(1193, 14, '萃华珠宝', YEL, 21, CJK, 'left', 'bold'));
  g.push(T(1355, 41.5, '龙虎看盘(逐单)', GRAY, 15, CJK, 'center'));
  g.push(T(1563.5, 41, '柱', GRAY, 17, CJK, 'center'));
  g.push(T(1588, 41, '笔', GRAY, 17, CJK, 'center'));
  g.push(T(1383, 66.5, '已成交委托单成交量统计', GRAY, 19.5, CJK));
  g.push(T(1407, 92, '共 908单 16.0手/单', GRAY, 17.5, CJK));
  g.push(T(1407, 217, '共 582单 25.0手/单', GRAY, 17.5, CJK));
  const buyY = [117, 141, 166, 191];
  const sellY = [242, 267, 291, 316];
  const drawRows = (ys: number[], vals: string[], pcts: string[], colors: string[]) => {
    ys.forEach((y, i) => {
      if (colors[i]) g.push(RC(1406, y - 8, 16, 16, 'none', colors[i]));
      g.push(T(1433, y, orderLabels[i], GRAY, 18, CJK));
      g.push(T(1549, y, vals[i], YEL, 17, SANS, 'right'));
      g.push(T(1598, y, pcts[i], YEL, 17, SANS, 'right'));
    });
  };
  drawRows(buyY, buyVals, buyPct, buyColors);
  drawRows(sellY, sellVals, sellPct, sellColors);
  ['委', '买', '单'].forEach((c, i) => g.push(T(1392, 125 + i * 21, c, GRAY, 18, CJK, 'center')));
  ['委', '卖', '单'].forEach((c, i) => g.push(T(1392, 248 + i * 20, c, GRAY, 18, CJK, 'center')));

  g.push(T(1355, 339, '分时走势', GRAY, 15, CJK, 'center'));
  g.push(T(1565, 465, '548', GRAY, 13, MONO));
  g.push(T(1565, 481.5, '分时', GRAY, 15, CJK));

  g.push(T(1343, 502.7, '深圳超赢实时监控', GRAY, 15, CJK, 'center'));
  g.push(T(1587.5, 503, '设', GRAY, 16, CJK, 'center'));
  g.push(MT(1208, 524, [['时间: 2021/08/13', RED]], 13, 15));
  g.push(MT(1112, 700, [['净额(万元)', GRAY]], 13, 15));
  g.push(MT(1112, 717, [['分类', GRAY]], 13, 15));

  g.push(T(1343, 741.7, '深市超赢分类统计', GRAY, 15, CJK, 'center'));
  g.push(T(1587, 741.5, '设', GRAY, 16, CJK, 'center'));
  g.push(MT(1208, 761.7, [['时间: 2021/08/13', RED]], 13, 15));
  g.push(MT(1112, 865, [['比例%', GRAY]], 13, 15));
  g.push(MT(1112, 883, [['分类', GRAY]], 13, 15));

  return {
    animation: false,
    backgroundColor: '#000000',
    grid, xAxis, yAxis, series,
    visualMap: [{ type: 'piecewise', show: false, seriesIndex: ai2LineIdx, dimension: 0, pieces }],
    graphic: { elements: g },
  };
}

export default function App() {
  const ref = useRef<HTMLDivElement>(null);
  useEffect(() => {
    document.body.style.margin = '0';
    document.body.style.background = '#000';
    const chart = echarts.init(ref.current as HTMLDivElement, null, { renderer: 'svg', width: 1600, height: 900 });
    chart.setOption(buildOption() as any);
    return () => chart.dispose();
  }, []);
  return <div ref={ref} style={{ position: 'absolute', left: 0, top: 0, width: 1600, height: 900, background: '#000' }} />;
}
